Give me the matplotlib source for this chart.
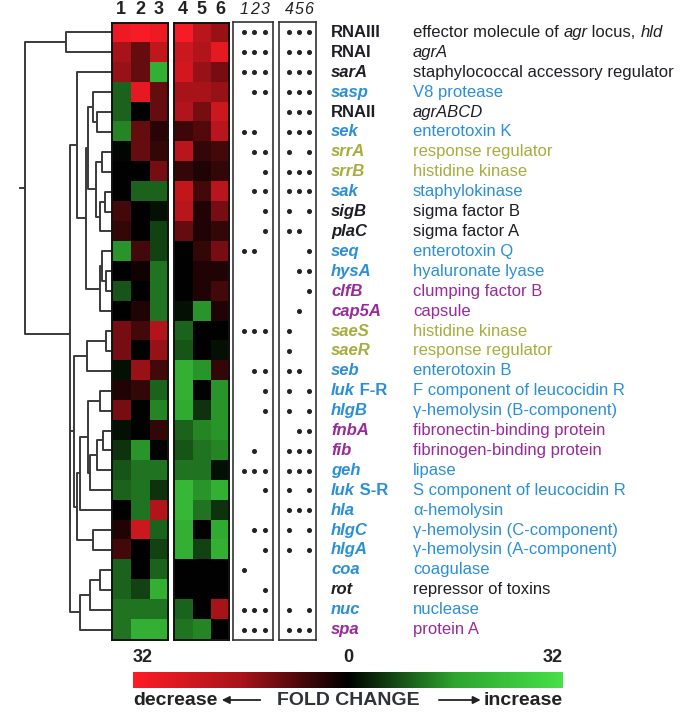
import matplotlib
matplotlib.use("Agg")
import matplotlib.pyplot as plt
import numpy as np
from matplotlib.colors import LinearSegmentedColormap

plt.rcParams['font.family'] = ['Liberation Sans', 'DejaVu Sans']

# ---- data -------------------------------------------------------------
genes = ['RNAIII', 'RNAI', 'sarA', 'sasp', 'RNAII', 'sek', 'srrA', 'srrB', 'sak',
         'sigB', 'plaC', 'seq', 'hysA', 'clfB', 'cap5A', 'saeS', 'saeR', 'seb',
         'luk| F-R', 'hlgB', 'fnbA', 'fib', 'geh', 'luk| S-R', 'hla', 'hlgC', 'hlgA',
         'coa', 'rot', 'nuc', 'spa']
upright = ['RNAIII', 'RNAI', 'RNAII']
descr = ['effector molecule of _agr_ locus, _hld_', '_agrA_',
         'staphylococcal accessory regulator', 'V8 protease', '_agrABCD_',
         'enterotoxin K', 'response regulator', 'histidine kinase', 'staphylokinase',
         'sigma factor B', 'sigma factor A', 'enterotoxin Q', 'hyaluronate lyase',
         'clumping factor B', 'capsule', 'histidine kinase', 'response regulator',
         'enterotoxin B', 'F component of leucocidin R', '\u03b3-hemolysin (B-component)',
         'fibronectin-binding protein', 'fibrinogen-binding protein', 'lipase',
         'S component of leucocidin R', '\u03b1-hemolysin', '\u03b3-hemolysin (C-component)',
         '\u03b3-hemolysin (A-component)', 'coagulase', 'repressor of toxins',
         'nuclease', 'protein A']
group = ['k', 'k', 'k', 'b', 'k', 'b', 'o', 'o', 'b', 'k', 'k', 'b', 'b', 'p', 'p',
         'o', 'o', 'b', 'b', 'b', 'p', 'p', 'b', 'b', 'b', 'b', 'b', 'b', 'k', 'b', 'p']
group_colors = {'k': '#1e1e24', 'b': '#2b8fd6', 'o': '#a7ad3c', 'p': '#982a9a'}

# fold change (-1 strong decrease ... +1 strong increase), columns 1-6
fold = np.array([
    [-0.9, -0.95, -0.9, -0.95, -0.6, -0.45],
    [-0.5, -0.3, -0.65, -0.7, -0.55, -0.85],
    [-0.45, -0.3, 0.6, -0.75, -0.45, -0.35],
    [0.3, -0.85, -0.3, -0.5, -0.5, -0.45],
    [0.3, 0.0, -0.3, -0.55, -0.35, -0.7],
    [0.4, -0.3, -0.12, -0.18, -0.25, -0.6],
    [0.02, -0.3, -0.15, -0.6, -0.15, -0.2],
    [0.0, 0.0, -0.35, -0.15, -0.1, -0.15],
    [0.0, 0.3, 0.3, -0.65, -0.2, -0.6],
    [-0.2, 0.0, 0.05, -0.6, -0.1, -0.35],
    [-0.15, 0.0, 0.2, -0.3, -0.1, -0.15],
    [0.45, -0.2, 0.2, 0.0, -0.15, -0.35],
    [0.0, -0.05, 0.35, 0.0, -0.1, -0.1],
    [0.25, 0.0, 0.35, 0.0, -0.1, -0.2],
    [0.0, -0.1, 0.35, 0.05, 0.45, -0.1],
    [-0.35, -0.2, -0.55, 0.3, 0.0, 0.0],
    [-0.35, 0.0, -0.45, 0.25, 0.0, 0.05],
    [0.05, -0.45, -0.2, 0.6, 0.45, -0.15],
    [-0.1, -0.15, 0.3, 0.6, 0.0, 0.45],
    [-0.35, 0.0, 0.4, 0.55, 0.15, 0.45],
    [0.05, 0.0, -0.15, 0.3, 0.4, 0.45],
    [0.15, 0.45, 0.0, 0.25, 0.35, 0.4],
    [0.25, 0.35, 0.35, 0.35, 0.35, 0.05],
    [0.3, 0.35, 0.15, 0.65, 0.45, 0.6],
    [0.0, 0.35, -0.55, 0.65, 0.35, 0.15],
    [-0.1, -0.7, 0.3, 0.6, 0.0, 0.55],
    [-0.2, 0.0, 0.2, 0.6, 0.2, 0.6],
    [0.3, 0.0, 0.3, 0.0, 0.0, 0.0],
    [0.3, 0.2, 0.6, 0.0, 0.0, 0.0],
    [0.35, 0.35, 0.35, 0.3, 0.0, -0.5],
    [0.35, 0.6, 0.6, 0.35, 0.4, 0.0],
])

# significance dots, columns 1-3 and 4-6
dots_a = ['111', '111', '111', '011', '000', '110', '011', '001', '011', '001', '001',
          '110', '000', '000', '000', '111', '000', '011', '001', '001', '000', '010',
          '111', '001', '000', '011', '001', '100', '001', '111', '111']
dots_b = ['111', '111', '111', '111', '111', '111', '101', '111', '111', '101', '110',
          '001', '011', '001', '010', '100', '100', '110', '101', '101', '011', '111',
          '111', '101', '111', '101', '101', '000', '000', '101', '111']

# dendrogram merges (child, child, distance); new node ids start at 31
merges = [
    (0, 1, 46), (4, 5, 15), (3, 32, 19), (6, 7, 10), (8, 9, 7), (35, 10, 12),
    (34, 36, 16), (33, 37, 24), (12, 13, 6), (11, 39, 10), (40, 14, 12),
    (38, 41, 26), (2, 42, 35), (15, 16, 6), (44, 17, 25), (18, 19, 12),
    (20, 21, 9), (47, 22, 15), (48, 23, 22), (46, 49, 24), (50, 24, 32),
    (25, 26, 19), (51, 52, 35), (45, 53, 38), (27, 28, 12), (55, 29, 22),
    (56, 30, 32), (54, 57, 42), (43, 58, 42), (31, 59, 87),
]

# ---- figure -----------------------------------------------------------
W, H = 686, 724
fig = plt.figure(figsize=(W / 100, H / 100), dpi=100)


def px_axes(x0, y0, x1, y1):
    return fig.add_axes([x0 / W, 1 - y1 / H, (x1 - x0) / W, (y1 - y0) / H])


cmap = LinearSegmentedColormap.from_list(
    'rg', [(0, '#ff1c26'), (0.25, '#a8141a'), (0.5, '#000000'),
           (0.75, '#2ea52f'), (1, '#48e048')])
n = len(genes)
top, bot = 22.5, 639.5

# dendrogram
ax_t = px_axes(10, top, 112, bot)
ax_t.set_xlim(102, 0)
ax_t.set_ylim(n - 0.5, -0.5)
ax_t.axis('off')
pos = {i: (0.0, float(i)) for i in range(n)}
for k, (a, b, d) in enumerate(merges):
    xa, ya = pos[a]
    xb, yb = pos[b]
    ax_t.plot([xa, d, d, xb], [ya, ya, yb, yb], color='#3a3a3a', lw=1.4,
              solid_capstyle='butt')
    pos[n + k] = (d, (ya + yb) / 2)
rx, ry = pos[n + len(merges) - 1]
ax_t.plot([rx, rx + 5], [ry, ry], color='#3a3a3a', lw=1.4)

# heatmaps
for cols, (x0, x1), heads in [((0, 3), (112, 168), '123'), ((3, 6), (173.5, 229.5), '456')]:
    ax = px_axes(x0, top, x1, bot)
    ax.imshow(fold[:, cols[0]:cols[1]], cmap=cmap, vmin=-1, vmax=1,
              aspect='auto', interpolation='nearest')
    ax.set_xticks([])
    ax.set_yticks([])
    for s in ax.spines.values():
        s.set_linewidth(1.4)
        s.set_color('#111111')
    for j, h in enumerate(heads):
        ax.text(j, -0.75, h, ha='center', va='bottom', fontsize=13,
                fontweight='bold', color='#222222')

# dot boxes
for dots, (x0, x1), heads in [(dots_a, (233, 273), '123'), (dots_b, (279, 316), '456')]:
    ax = px_axes(x0, top - 0.5, x1, bot + 0.5)
    ax.set_xlim(-1.0, 2.75)
    ax.set_ylim(n - 0.5, -0.5)
    ax.set_xticks([])
    ax.set_yticks([])
    for s in ax.spines.values():
        s.set_linewidth(1.2)
        s.set_color('#333333')
    xs, ys = [], []
    for i, row in enumerate(dots):
        for j, c in enumerate(row):
            if c == '1':
                xs.append(j)
                ys.append(i)
    ax.plot(xs, ys, 'o', color='#222222', markersize=2.6, linestyle='none')
    for j, h in enumerate(heads):
        ax.text(j, -0.75, h, ha='center', va='bottom', fontsize=11.5,
                fontstyle='italic', color='#222222')

# labels
ax_l = px_axes(320, top, 686, bot)
ax_l.set_xlim(320, 686)
ax_l.set_ylim(n - 0.5, -0.5)
ax_l.axis('off')


def chain(ax, x, y, pieces, color, fs):
    prev = None
    for txt, style, weight in pieces:
        if txt == '':
            continue
        if prev is None:
            prev = ax.text(x, y, txt, ha='left', va='center', fontsize=fs,
                           fontstyle=style, fontweight=weight, color=color)
        else:
            prev = ax.annotate(txt, xy=(1, 0), xycoords=prev, ha='left', va='bottom',
                               fontsize=fs, fontstyle=style, fontweight=weight,
                               color=color)


for i in range(n):
    col = group_colors[group[i]]
    g = genes[i]
    if g in upright:
        pieces = [(g, 'normal', 'bold')]
    elif '|' in g:
        a, b = g.split('|')
        pieces = [(a, 'italic', 'bold'), (b, 'normal', 'bold')]
    else:
        pieces = [(g, 'italic', 'bold')]
    chain(ax_l, 331, i, pieces, col, 12)
    parts = descr[i].split('_')
    dp = [(p, 'italic' if k % 2 else 'normal', 'normal') for k, p in enumerate(parts)]
    chain(ax_l, 413, i, dp, col, 12)

# colour bar
ax_c = px_axes(133, 672, 563, 688)
ax_c.imshow(np.linspace(-1, 1, 512)[None, :], cmap=cmap, aspect='auto',
            extent=(-1, 1, 0, 1))
ax_c.set_xticks([])
ax_c.set_yticks([])
for s in ax_c.spines.values():
    s.set_visible(False)
for xv, lab, ha in [(-1, '32', 'left'), (0, '0', 'center'), (1, '32', 'right')]:
    ax_c.text(xv, 1.35, lab, ha=ha, va='bottom', fontsize=13, fontweight='bold',
              color='#222222')
ax_c.text(-1, -0.8, 'decrease', ha='left', va='center', fontsize=14,
          fontweight='bold', color='#222222')
ax_c.text(0, -0.8, 'FOLD CHANGE', ha='center', va='center', fontsize=14,
          fontweight='bold', color='#2e3338')
ax_c.text(1, -0.8, 'increase', ha='right', va='center', fontsize=14,
          fontweight='bold', color='#222222')
arrow = dict(arrowstyle='-|>', lw=1.3, color='#222222', mutation_scale=11)
ax_c.annotate('', xy=(-0.6, -0.75), xytext=(-0.395, -0.75), arrowprops=arrow,
              annotation_clip=False)
ax_c.annotate('', xy=(0.63, -0.75), xytext=(0.41, -0.75), arrowprops=arrow,
              annotation_clip=False)

fig.savefig('out.png', dpi=100)
